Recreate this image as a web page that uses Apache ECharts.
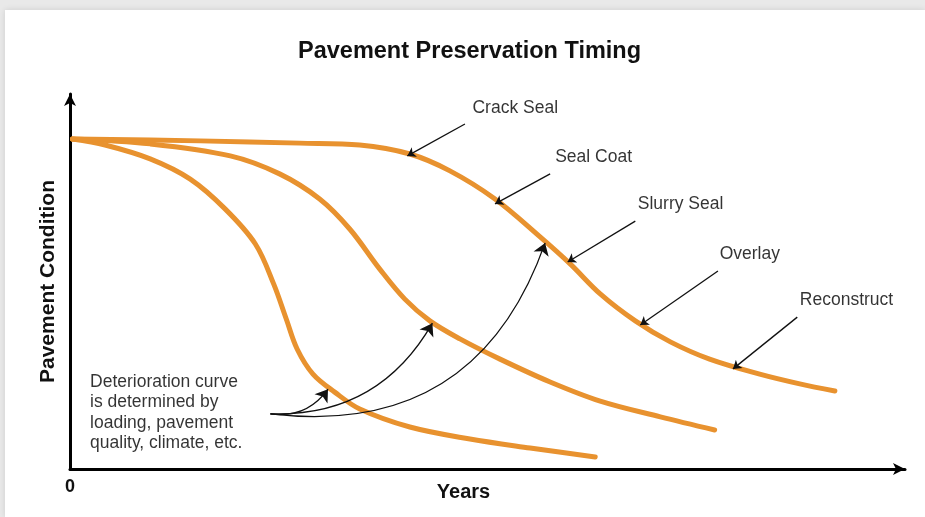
<!DOCTYPE html>
<html>
<head>
<meta charset="utf-8">
<script src="https://cdn.jsdelivr.net/npm/echarts@6/dist/echarts.min.js"></script>
<style>
html,body{margin:0;padding:0;width:925px;height:517px;background:#e9e9e9;overflow:hidden;}
#card{position:absolute;left:5px;top:10px;right:0;bottom:0;background:#fff;box-shadow:0 0 6px rgba(0,0,0,0.12);}
#chart{position:absolute;left:0;top:0;width:925px;height:517px;}
</style>
</head>
<body>
<div id="card"></div>
<div id="chart"></div>
<script>
// Conceptual curves: [years, condition]
const curveFast = [[0.3,88],[4.2,86.4],[9.6,82.7],[14.4,77.3],[18.6,69.3],[22.2,60],[24.4,49.3],[25.9,40],[27.2,32],[29.1,25.3],[31.7,20.5],[34.7,16],[40.7,11.2],[47.9,8],[55.1,5.6],[62.9,3.2]];
const curveMid = [[0.3,88],[9.6,86.7],[19.2,83.5],[25.1,78.7],[29.9,72],[33.5,64],[37.1,53.3],[40.1,45.3],[43.1,39.5],[46.7,34.7],[51.5,29.3],[57.5,23.2],[63.5,18.1],[70.7,13.9],[77.2,10.4]];
const curveSlow = [[0.3,88],[15.6,87.5],[27.5,86.9],[34.7,86.4],[40.7,84],[45.5,79.5],[50.9,72],[56.3,61.9],[59.9,54.7],[63.5,46.7],[67.7,39.5],[71.9,33.9],[76.6,29.3],[82.6,25.3],[87.4,22.7],[91.6,20.8]];

const treatmentNames = ['Crack Seal','Seal Coat','Slurry Seal','Overlay','Reconstruct'];
const treatmentLabelPos = [[48.2,96.1],[58.1,83.1],[68.0,70.5],[77.8,57.3],[87.4,44.9]];
const treatmentArrowFrom = [[47.3,92],[57.5,78.7],[67.7,66.1],[77.6,52.8],[87.1,40.5]];
const treatmentArrowTo = [[40.4,83.5],[50.9,70.7],[59.6,55.2],[68.3,38.4],[79.4,26.7]];

const noteText = 'Deterioration curve\nis determined by\nloading, pavement\nquality, climate, etc.';
const notePos = [2.4, 25.9];
const noteArrowFrom = [24, 14.7];
const noteArrowTo = [[30.9,21.3],[43.4,38.9],[56.9,60.3]];
const noteArrowCurve = [-0.3,-0.3,-0.4];

const orange = '#E8922F';
const font = 'Liberation Sans, Arial, Helvetica, sans-serif';
const chart = echarts.init(document.getElementById('chart'));

const straightArrows = treatmentArrowFrom.map((f,i)=>({coords:[f, treatmentArrowTo[i]]}));
const curvedArrows = noteArrowTo.map((t,i)=>({coords:[noteArrowFrom, t], lineStyle:{curveness:noteArrowCurve[i]}}));
const labelData = treatmentNames.map((n,i)=>({name:n, value:treatmentLabelPos[i]}));

function curveSeries(data){
  return {type:'line', data:data, smooth:0.35, showSymbol:false, symbol:'none',
    lineStyle:{color:orange, width:5, cap:'round', join:'round'}, z:2, silent:true};
}

chart.setOption({
  animation:false,
  backgroundColor:'transparent',
  title:{text:'Pavement Preservation Timing', left:293, top:35,
    textStyle:{fontFamily:font, fontSize:23.5, fontWeight:'bold', color:'#111'}},
  grid:{left:70, right:20, top:94, bottom:48, containLabel:false, outerBoundsMode:'none'},
  xAxis:{type:'value', min:0, max:100, interval:100,
    name:'Years', nameLocation:'middle', nameGap:13, nameMoveOverlap:false,
    nameTextStyle:{fontFamily:font, fontSize:20, fontWeight:'bold', color:'#111', padding:[0,48,0,0]},
    axisLine:{show:true, symbol:['none','arrow'], symbolSize:[9,12], lineStyle:{color:'#000', width:3}},
    axisTick:{show:false}, splitLine:{show:false},
    axisLabel:{margin:9, fontFamily:font, fontSize:18, fontWeight:'bold', color:'#111',
      formatter:v=> v===0 ? '0' : ''}},
  yAxis:{type:'value', min:0, max:100, interval:100,
    name:'Pavement Condition', nameLocation:'middle', nameGap:11, nameRotate:90, nameMoveOverlap:false,
    nameTextStyle:{fontFamily:font, fontSize:21, fontWeight:'bold', color:'#111'},
    axisLine:{show:true, symbol:['none','arrow'], symbolSize:[9,12], lineStyle:{color:'#000', width:3}},
    axisTick:{show:false}, splitLine:{show:false}, axisLabel:{show:false}},
  series:[
    curveSeries(curveFast), curveSeries(curveMid), curveSeries(curveSlow),
    {type:'lines', coordinateSystem:'cartesian2d', data:straightArrows, z:5, silent:true,
      symbol:['none','arrow'], symbolSize:8, lineStyle:{color:'#111', width:1.3, opacity:1}},
    {type:'lines', coordinateSystem:'cartesian2d', data:curvedArrows, z:5, silent:true,
      symbol:['none','arrow'], symbolSize:[8,12], lineStyle:{color:'#111', width:1.3, opacity:1}},
    {type:'scatter', data:labelData, symbolSize:0, z:6, silent:true,
      label:{show:true, position:[0,0], align:'left', verticalAlign:'middle', formatter:'{b}',
        fontFamily:font, fontSize:17.5, color:'#000'}},
    {type:'scatter', data:[{name:noteText, value:notePos}], symbolSize:0, z:6, silent:true,
      label:{show:true, position:[0,0], align:'left', verticalAlign:'top', formatter:'{b}', lineHeight:20.5,
        fontFamily:font, fontSize:17.5, color:'#000'}}
  ]
});
</script>
</body>
</html>
